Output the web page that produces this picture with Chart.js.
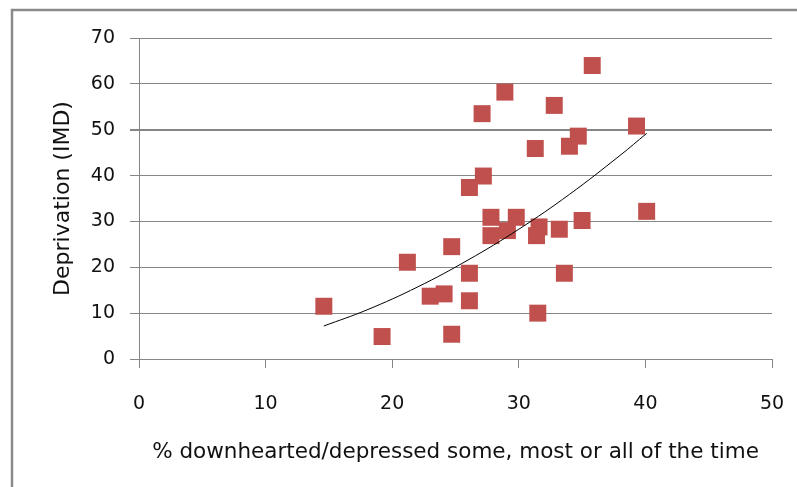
<!DOCTYPE html>
<html>
<head>
<meta charset="utf-8">
<script src="https://cdn.jsdelivr.net/npm/chart.js@4.4.0/dist/chart.umd.min.js"></script>
<style>
  html, body { margin: 0; padding: 0; background: #fff; }
  #wrap { width: 797px; height: 487px; }
</style>
</head>
<body>
<div id="wrap"><canvas id="chart"></canvas></div>
<script>
// % downhearted/depressed (x) vs deprivation IMD score (y)
const depressedPct = [35.8, 28.9, 27.1, 32.8, 39.3, 34.7, 34.0, 31.3, 27.2, 26.1,
                      40.1, 27.8, 29.8, 35.0, 31.6, 33.2, 29.1, 27.8, 31.4, 24.7,
                      21.2, 26.1, 33.6, 23.0, 24.1, 26.1, 31.5, 24.7, 14.6, 19.2];
const deprivation  = [64.0, 58.2, 53.5, 55.3, 50.8, 48.6, 46.4, 45.9, 39.9, 37.4,
                      32.2, 30.9, 30.9, 30.2, 28.8, 28.3, 28.0, 26.9, 26.9, 24.5,
                      21.1, 18.7, 18.7, 13.7, 14.2, 12.7, 10.0,  5.4, 11.5,  4.9];

// trend line (power)
const trendX = [14.6, 18, 22, 26, 30, 34, 38, 40.1];
const trendY = [7.2, 10.7, 15.7, 21.6, 28.3, 35.9, 44.4, 49.2];

const xTitle = "% downhearted/depressed some, most or all of the time";
const yTitle = "Deprivation (IMD)";

const points = depressedPct.map((x, i) => ({ x: x, y: deprivation[i] }));
const trend = trendX.map((x, i) => ({ x: x, y: trendY[i] }));

const gridGrey = "#868686";

// outer frame (only top and left edges fall inside the picture)
const framePlugin = {
  id: "frame",
  beforeDraw(chart) {
    const ctx = chart.ctx;
    ctx.save();
    ctx.fillStyle = "#fff";
    ctx.fillRect(0, 0, chart.width, chart.height);
    ctx.strokeStyle = "#8a8a8a";
    ctx.lineWidth = 2.5;
    ctx.beginPath();
    ctx.moveTo(chart.width, 10);
    ctx.lineTo(12, 10);
    ctx.lineTo(12, chart.height);
    ctx.stroke();
    ctx.restore();
  }
};

new Chart(document.getElementById("chart"), {
  type: "scatter",
  data: {
    datasets: [
      {
        type: "line",
        data: trend,
        borderColor: "#000",
        borderWidth: 1,
        pointRadius: 0,
        tension: 0.4,
        fill: false
      },
      {
        data: points,
        pointStyle: "rect",
        pointRadius: 12,
        pointHoverRadius: 12,
        backgroundColor: "#C0504D",
        borderColor: "#C0504D",
        borderWidth: 0
      }
    ]
  },
  options: {
    responsive: true,
    maintainAspectRatio: false,
    animation: false,
    layout: { padding: { top: 38, right: 25, left: 0, bottom: 0 } },
    plugins: {
      legend: { display: false },
      tooltip: { enabled: false }
    },
    scales: {
      x: {
        min: 0,
        max: 50,
        afterFit: (scale) => {
          scale.height = 128;
          // tick padding would otherwise widen the side padding too
          scale.paddingLeft = 0;
          scale.paddingRight = 0;
        },
        ticks: {
          stepSize: 10,
          padding: 25,
          color: "#111",
          font: { family: "DejaVu Sans", size: 19 }
        },
        grid: { drawOnChartArea: false, drawTicks: true, tickLength: 9, color: gridGrey },
        border: { display: true, color: gridGrey },
        title: {
          display: true,
          text: xTitle,
          color: "#111",
          font: { family: "DejaVu Sans", size: 21.5 },
          padding: { top: 0, bottom: 22 }
        }
      },
      y: {
        min: 0,
        max: 70,
        afterFit: (scale) => { scale.width = 139; },
        ticks: {
          stepSize: 10,
          padding: 15,
          color: "#111",
          font: { family: "DejaVu Sans", size: 19 }
        },
        grid: {
          drawOnChartArea: true,
          drawTicks: true,
          tickLength: 9,
          color: gridGrey,
          lineWidth: (c) => (c.tick && c.tick.value === 50 ? 2 : 1)
        },
        border: { display: true, color: gridGrey },
        title: {
          display: true,
          text: yTitle,
          color: "#111",
          font: { family: "DejaVu Sans", size: 22 },
          padding: { top: 50, bottom: 0 }
        }
      }
    }
  },
  plugins: [framePlugin]
});
</script>
</body>
</html>
